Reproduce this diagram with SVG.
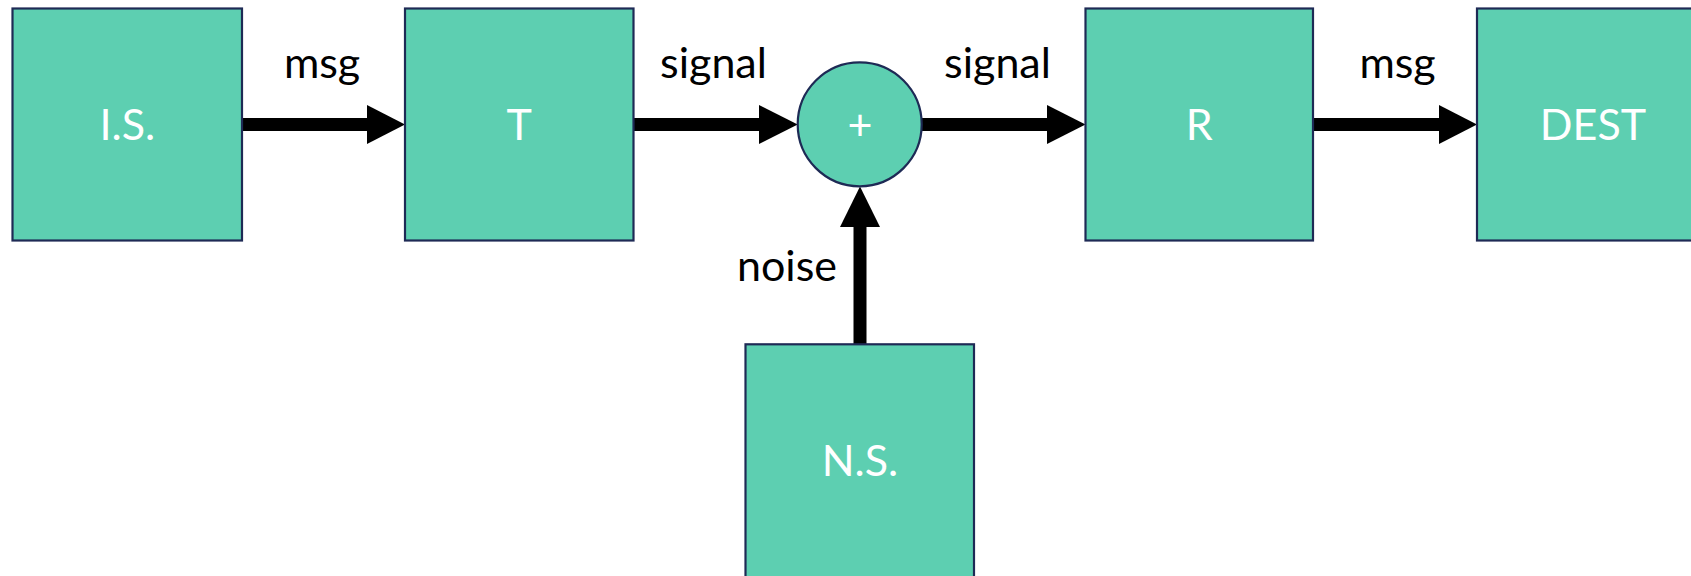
<svg xmlns="http://www.w3.org/2000/svg" width="1691" height="576" viewBox="0 0 1691 576">
<style>
.node{fill:#5DCFB1;stroke:#1E2A55;stroke-width:2.2}
.nl{font-family:Lato,"Open Sans","Liberation Sans",sans-serif;font-size:43px;font-weight:400;fill:#ffffff;text-anchor:middle}
.el{font-family:Lato,"Open Sans","Liberation Sans",sans-serif;font-size:43px;fill:#000000;text-anchor:middle}
.shaft{stroke:#000;stroke-width:13;fill:none}
.head{fill:#000}
</style>
<rect width="1691" height="576" fill="#ffffff"/>
<g id="connectors">
  <g id="c1"><line class="shaft" x1="242" y1="124.5" x2="369" y2="124.5"/><polygon class="head" points="367,105 405,124.5 367,144"/><text class="el" x="322" y="78">msg</text></g>
  <g id="c2"><line class="shaft" x1="633" y1="124.5" x2="761" y2="124.5"/><polygon class="head" points="759,105 797.7,124.5 759,144"/><text class="el" x="713.5" y="78">signal</text></g>
  <g id="c3"><line class="shaft" x1="921" y1="124.5" x2="1049" y2="124.5"/><polygon class="head" points="1047,105 1085.5,124.5 1047,144"/><text class="el" x="997.5" y="78">signal</text></g>
  <g id="c4"><line class="shaft" x1="1313" y1="124.5" x2="1441" y2="124.5"/><polygon class="head" points="1439,105 1477,124.5 1439,144"/><text class="el" x="1397.5" y="78">msg</text></g>
  <g id="c5"><line class="shaft" x1="860" y1="344" x2="860" y2="225"/><polygon class="head" points="840,227 860,186.5 880,227"/><text class="el" x="837" y="281" style="text-anchor:end">noise</text></g>
</g>
<g id="is"><rect class="node" x="12.5" y="8.5" width="229.5" height="232"/><text class="nl" x="127.3" y="140">I.S.</text></g>
<g id="t"><rect class="node" x="405" y="8.5" width="228.5" height="232"/><text class="nl" x="519.3" y="140">T</text></g>
<g id="sum"><circle class="node" cx="859.7" cy="124.3" r="62"/><text class="nl" x="860" y="140">+</text></g>
<g id="r"><rect class="node" x="1085.5" y="8.5" width="227.5" height="232"/><text class="nl" x="1199.3" y="140">R</text></g>
<g id="dest"><rect class="node" x="1477" y="8.5" width="229" height="232"/><text class="nl" x="1593" y="140">DEST</text></g>
<g id="ns"><rect class="node" x="745.5" y="344.3" width="228.5" height="240"/><text class="nl" x="860" y="476">N.S.</text></g>
</svg>
